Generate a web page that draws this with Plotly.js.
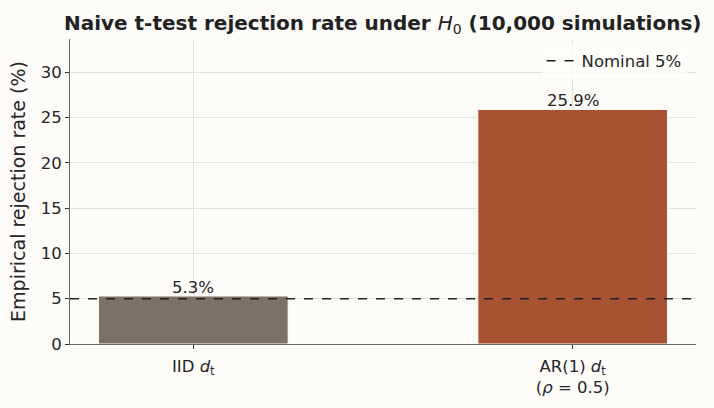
<!DOCTYPE html>
<html>
<head>
<meta charset="utf-8">
<script src="https://cdn.plot.ly/plotly-3.0.1.min.js"></script>
<style>html,body{margin:0;padding:0;background:#fdfcf9;}</style>
</head>
<body>
<div id="chart" style="width:714px;height:408px;"></div>
<script>
const categories = ["IID <i>d</i><sub>t</sub>", "AR(1) <i>d</i><sub>t</sub><br>(<i>ρ</i> = 0.5)"];
const rates = [5.3, 25.9];
const labels = ["5.3%", "25.9%"];
const barColors = ["#7a716b", "#a65233"];
const nominal = 5;
const xIdx = categories.map((_, i) => i);
const xRange = [-0.325, 1.325];

const traces = [
  {
    type: "bar",
    x: xIdx,
    y: rates,
    width: 0.5,
    marker: {color: barColors, line: {color: "#ffffff", width: 1}},
    showlegend: false,
    hoverinfo: "skip"
  },
  {
    type: "scatter",
    mode: "lines",
    x: xRange,
    y: [nominal, nominal],
    line: {color: "#222222", width: 1.5, dash: "dash"},
    name: "Nominal 5%",
    showlegend: true
  }
];

const annotations = xIdx.map((x, i) => ({
  x: x, y: rates[i], xref: "x", yref: "y",
  text: labels[i], showarrow: false,
  yanchor: "bottom", yshift: -3,
  font: {family: "DejaVu Sans", size: 16.5, color: "#262626"}
}));

const layout = {
  width: 714,
  height: 408,
  paper_bgcolor: "#fdfcf9",
  plot_bgcolor: "#fdfcf9",
  font: {family: "DejaVu Sans", color: "#262626", size: 16.5},
  margin: {l: 70, r: 18, t: 39, b: 64},
  title: {
    text: "<b>Naive t-test rejection rate under </b><i>H</i><sub>0</sub><b> (10,000 simulations)</b>",
    font: {family: "DejaVu Sans", size: 20, color: "#222222"},
    x: 0.5360, xanchor: "center", y: 0.962, yanchor: "top"
  },
  annotations: annotations,
  xaxis: {
    range: xRange,
    tickmode: "array",
    tickvals: xIdx,
    ticktext: categories,
    showgrid: true,
    gridcolor: "#e4e2de",
    zeroline: false,
    showline: true,
    linecolor: "#666666",
    linewidth: 1,
    ticks: "outside",
    ticklen: 4,
    tickcolor: "#333333",
    ticklabelstandoff: 3,
    tickfont: {size: 16.5, color: "#262626"}
  },
  yaxis: {
    range: [0, 33.67],
    tickvals: [0, 5, 10, 15, 20, 25, 30],
    showgrid: true,
    gridcolor: "#e4e2de",
    zeroline: false,
    showline: true,
    linecolor: "#666666",
    linewidth: 1,
    ticks: "outside",
    ticklen: 4,
    tickcolor: "#333333",
    tickfont: {size: 16.5, color: "#262626"},
    title: {text: "Empirical rejection rate (%)", font: {size: 19, color: "#262626"}, standoff: 10}
  },
  legend: {
    x: 0.985, xanchor: "right", y: 0.985, yanchor: "top",
    bgcolor: "rgba(253,252,249,0.8)",
    borderwidth: 0,
    font: {size: 16.5, color: "#262626"}
  },
  bargap: 0
};

Plotly.newPlot("chart", traces, layout, {staticPlot: true, displayModeBar: false});
</script>
</body>
</html>
